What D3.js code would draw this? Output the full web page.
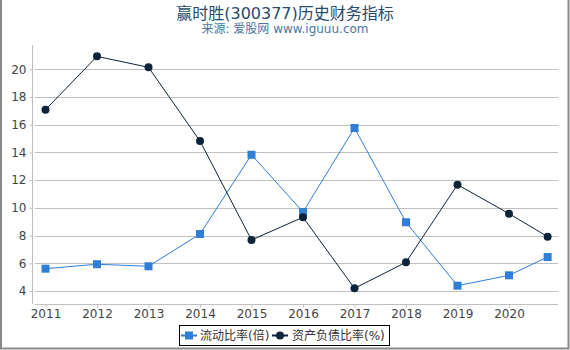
<!DOCTYPE html>
<html>
  <head>
    <meta charset="utf-8">
    <title>赢时胜(300377)历史财务指标</title>
    <script src="https://cdn.jsdelivr.net/npm/d3@7"></script>
    <style>
      body { margin: 0; background: #fff; }
      svg { font-family: "DejaVu Sans", "Noto Sans CJK SC", sans-serif; }
    </style>
  </head>
  <body>
    <script>
      // report dates (last one is a Q3 report)
      var years = [2011, 2012, 2013, 2014, 2015, 2016, 2017, 2018, 2019, 2020, 2020.75];
      var currentRatio = [5.61, 5.93, 5.78, 8.11, 13.83, 9.70, 15.76, 8.96, 4.38, 5.13, 6.45];
      var debtRatio = [17.08, 20.93, 20.14, 14.82, 7.68, 9.32, 4.19, 6.07, 11.67, 9.58, 7.92];
      var xTicks = [2011, 2012, 2013, 2014, 2015, 2016, 2017, 2018, 2019, 2020];
      var yTicks = [4, 6, 8, 10, 12, 14, 16, 18, 20];
      var seriesNames = ['流动比率(倍)', '资产负债比率(%)'];

      var W = 570, H = 350;
      var svg = d3.select('body').append('svg').attr('width', W).attr('height', H);

      // outer frame
      svg.append('path').attr('d', 'M1,0V348.5H568.5V0').attr('fill', 'none')
        .attr('stroke', '#888').attr('stroke-width', 2);

      svg.append('text').attr('x', 285).attr('y', 19).attr('text-anchor', 'middle')
        .attr('font-size', 16).attr('fill', '#274b6d').text('赢时胜(300377)历史财务指标');
      svg.append('text').attr('x', 285).attr('y', 33).attr('text-anchor', 'middle')
        .attr('font-size', 12).attr('fill', '#4d759e').text('来源: 爱股网 www.iguuu.com');

      var x = d3.scaleLinear().domain([2011, 2020]).range([45.5, 509]);
      var y = d3.scaleLinear().domain([3.06, 21.75]).range([304, 45]);

      // grid
      svg.append('g').selectAll('line').data(yTicks).enter().append('line')
        .attr('x1', 35).attr('x2', 558)
        .attr('y1', function(d){ return Math.round(y(d)) + 0.5; })
        .attr('y2', function(d){ return Math.round(y(d)) + 0.5; })
        .attr('stroke', '#c0c0c0');

      var yAxis = svg.append('g').attr('transform', 'translate(32.5,0)')
        .call(d3.axisLeft(y).tickValues(yTicks).tickSize(3).tickPadding(3));
      yAxis.select('.domain').attr('d', 'M0,45V304');
      var xAxis = svg.append('g').attr('transform', 'translate(0,304.5)')
        .call(d3.axisBottom(x).tickValues(xTicks).tickFormat(d3.format('d')).tickSize(3).tickPadding(2));
      xAxis.select('.domain').attr('d', 'M35,0H558');
      svg.selectAll('.domain, .tick line').attr('stroke', '#c0c0c0');
      svg.selectAll('.tick text').attr('fill', '#444').attr('font-size', 12)
        .attr('font-family', '"DejaVu Sans", sans-serif');

      var line = d3.line().x(function(d, i){ return x(years[i]); }).y(function(d){ return y(d); });

      svg.append('path').datum(currentRatio).attr('d', line).attr('fill', 'none')
        .attr('stroke', '#2f7ed8').attr('stroke-width', 1);
      svg.append('path').datum(debtRatio).attr('d', line).attr('fill', 'none')
        .attr('stroke', '#0d233a').attr('stroke-width', 1);

      svg.append('g').selectAll('rect').data(currentRatio).enter().append('rect')
        .attr('x', function(d, i){ return x(years[i]) - 4; })
        .attr('y', function(d){ return y(d) - 4; })
        .attr('width', 8).attr('height', 8).attr('fill', '#2f7ed8');
      svg.append('g').selectAll('circle').data(debtRatio).enter().append('circle')
        .attr('cx', function(d, i){ return x(years[i]); })
        .attr('cy', function(d){ return y(d); })
        .attr('r', 4).attr('fill', '#0d233a');

      // legend
      var lg = svg.append('g');
      lg.append('rect').attr('x', 179.5).attr('y', 325.5).attr('width', 210).attr('height', 20)
        .attr('fill', '#fff').attr('stroke', '#000');
      lg.append('line').attr('x1', 181).attr('x2', 197).attr('y1', 335.5).attr('y2', 335.5)
        .attr('stroke', '#2f7ed8').attr('stroke-width', 2);
      lg.append('rect').attr('x', 185).attr('y', 331.5).attr('width', 8).attr('height', 8).attr('fill', '#2f7ed8');
      lg.append('text').attr('x', 200).attr('y', 340).attr('font-size', 12).attr('fill', '#333').text(seriesNames[0]);
      lg.append('line').attr('x1', 272).attr('x2', 288).attr('y1', 335.5).attr('y2', 335.5)
        .attr('stroke', '#0d233a').attr('stroke-width', 2);
      lg.append('circle').attr('cx', 280).attr('cy', 335.5).attr('r', 4).attr('fill', '#0d233a');
      lg.append('text').attr('x', 292).attr('y', 340).attr('font-size', 12).attr('fill', '#333').text(seriesNames[1]);
    </script>
  </body>
</html>
